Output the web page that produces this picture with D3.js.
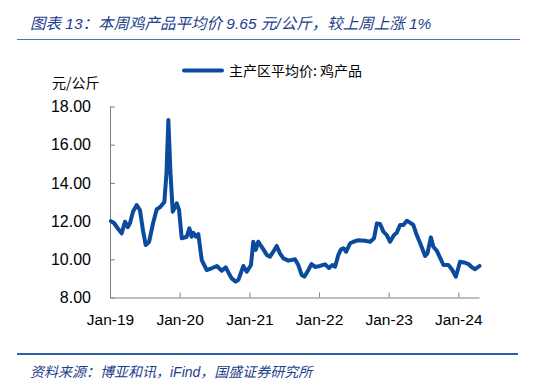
<!DOCTYPE html>
<html><head><meta charset="utf-8">
<script src="https://cdn.jsdelivr.net/npm/d3@7"></script>
<style>
body{margin:0;background:#fff;}
svg{display:block;}
</style></head>
<body><svg id="c" width="546" height="392"></svg>
<script>
const titleText = "图表 13：本周鸡产品平均价 9.65 元/公斤，较上周上涨 1%";
const sourceText = "资料来源：博亚和讯，iFind，国盛证券研究所";
const unitLabel = "元/公斤";
const seriesName = "主产区平均价: 鸡产品";
const yTicks = [8, 10, 12, 14, 16, 18];
const xTickYears = ["2019-01-01","2020-01-01","2021-01-01","2022-01-01","2023-01-01","2024-01-01"];
const dates = ["2019-01-06","2019-01-22","2019-02-12","2019-03-03","2019-03-21","2019-04-04","2019-04-16","2019-05-02","2019-05-21","2019-06-07","2019-06-23","2019-07-07","2019-07-25","2019-08-15","2019-09-03","2019-09-20","2019-10-13","2019-10-24","2019-11-03","2019-11-14","2019-11-26","2019-12-17","2019-12-29","2020-01-12","2020-02-07","2020-02-21","2020-03-04","2020-03-13","2020-03-27","2020-04-08","2020-04-26","2020-05-22","2020-06-17","2020-07-14","2020-08-09","2020-08-30","2020-09-13","2020-09-30","2020-10-21","2020-11-04","2020-11-30","2020-12-18","2021-01-09","2021-01-21","2021-02-03","2021-02-16","2021-03-15","2021-04-02","2021-04-19","2021-05-06","2021-05-24","2021-06-10","2021-06-28","2021-07-24","2021-08-28","2021-09-14","2021-10-02","2021-10-16","2021-11-06","2021-11-22","2021-12-11","2022-01-06","2022-02-01","2022-02-22","2022-03-12","2022-03-26","2022-04-12","2022-04-26","2022-05-09","2022-05-23","2022-06-13","2022-06-30","2022-07-26","2022-08-30","2022-09-26","2022-10-16","2022-10-31","2022-11-17","2022-12-04","2022-12-22","2023-01-08","2023-01-29","2023-02-12","2023-03-02","2023-03-19","2023-04-06","2023-04-23","2023-05-10","2023-05-28","2023-06-15","2023-07-11","2023-07-23","2023-08-10","2023-08-23","2023-09-10","2023-10-15","2023-11-10","2023-11-28","2023-12-19","2024-01-10","2024-02-06","2024-02-23","2024-03-12","2024-03-29","2024-04-21"];
const prices = [12.0,11.9,11.6,11.36,11.97,11.68,11.9,12.5,12.84,12.58,11.5,10.75,10.92,11.9,12.62,12.72,13.0,14.5,17.29,14.5,12.49,12.93,12.58,11.1,11.18,11.62,11.18,11.39,11.18,11.32,9.96,9.44,9.53,9.65,9.4,9.58,9.3,9.0,8.83,8.92,9.65,9.35,9.7,10.92,10.49,10.92,10.52,10.23,10.14,10.4,10.7,10.31,10.05,9.93,10.0,9.7,9.18,9.09,9.44,9.75,9.6,9.65,9.74,9.55,9.7,9.61,10.23,10.52,10.58,10.4,10.84,10.92,11.0,10.97,10.92,11.1,11.88,11.85,11.45,11.27,10.92,11.27,11.39,11.8,11.8,12.02,11.92,11.8,11.27,10.84,10.17,10.31,11.15,10.66,10.45,9.7,9.7,9.48,9.09,9.87,9.82,9.75,9.58,9.48,9.65];

const parse = d3.timeParse("%Y-%m-%d");
const data = dates.map((d,i)=>({date: parse(d), v: prices[i]}));

const svg = d3.select("#c");
const blue = "#0B4A9E";
const latin = "'Liberation Sans', Arial, sans-serif";
const cjk = "'Noto Sans CJK SC', sans-serif";

// title
svg.append("text").attr("x", 30).attr("y", 29)
  .attr("font-family", "'Liberation Sans','Noto Sans CJK SC',sans-serif")
  .attr("font-size", 15.5).attr("font-style","italic").attr("fill","#1D3F8C")
  .text(titleText);
svg.append("line").attr("x1",17).attr("x2",520).attr("y1",39.5).attr("y2",39.5)
  .attr("stroke","#4A76B8").attr("stroke-width",1);

// bottom rule + source
svg.append("line").attr("x1",17).attr("x2",518).attr("y1",354).attr("y2",354)
  .attr("stroke","#2F5FA8").attr("stroke-width",2);
svg.append("text").attr("x", 30).attr("y", 377)
  .attr("font-family", "'Liberation Sans','Noto Sans CJK SC',sans-serif")
  .attr("font-size", 14).attr("font-style","italic").attr("fill","#1D3F8C")
  .text(sourceText);

const x = d3.scaleTime().domain([parse("2019-01-01"), parse("2024-04-21")]).range([110, 479.5]);
const y = d3.scaleLinear().domain([8, 18]).range([297.5, 106.5]);

// y axis
const ya = svg.append("g").attr("transform","translate(110,0)")
  .call(d3.axisRight(y).tickValues(yTicks).tickSize(5).tickFormat(d3.format(".2f")));
ya.select(".domain").attr("stroke","#808080").attr("d","M0.5,106.5V297.5");
ya.selectAll(".tick line").attr("stroke","#808080").attr("x1",0.5);
ya.selectAll(".tick text").attr("x",-19).attr("text-anchor","end")
  .attr("font-family", latin).attr("font-size",16).attr("fill","#000");

// x axis
const xa = svg.append("g").attr("transform","translate(0,297.5)")
  .call(d3.axisTop(x).tickValues(xTickYears.map(parse)).tickSize(5).tickFormat(d3.timeFormat("%b-%y")));
xa.select(".domain").attr("stroke","#808080").attr("d","M110,0.5H479.5");
xa.selectAll(".tick line").attr("stroke","#808080");
xa.selectAll(".tick text").attr("y",27).attr("dy",0)
  .attr("font-family", latin).attr("font-size",15.5).attr("fill","#000");

// unit label
svg.append("text").attr("x", 52).attr("y", 88)
  .attr("font-family", cjk).attr("font-size", 14).attr("fill","#000").text(unitLabel);

// legend
svg.append("line").attr("x1",184).attr("x2",222).attr("y1",70.5).attr("y2",70.5)
  .attr("stroke",blue).attr("stroke-width",4).attr("stroke-linecap","round");
svg.append("text").attr("x",229).attr("y",75.5)
  .attr("font-family", cjk).attr("font-size",14).attr("fill","#000").text(seriesName);

// line
svg.append("path").datum(data)
  .attr("fill","none").attr("stroke",blue).attr("stroke-width",4)
  .attr("stroke-linejoin","round").attr("stroke-linecap","round")
  .attr("d", d3.line().x(d=>x(d.date)).y(d=>y(d.v)));
</script></body></html>
